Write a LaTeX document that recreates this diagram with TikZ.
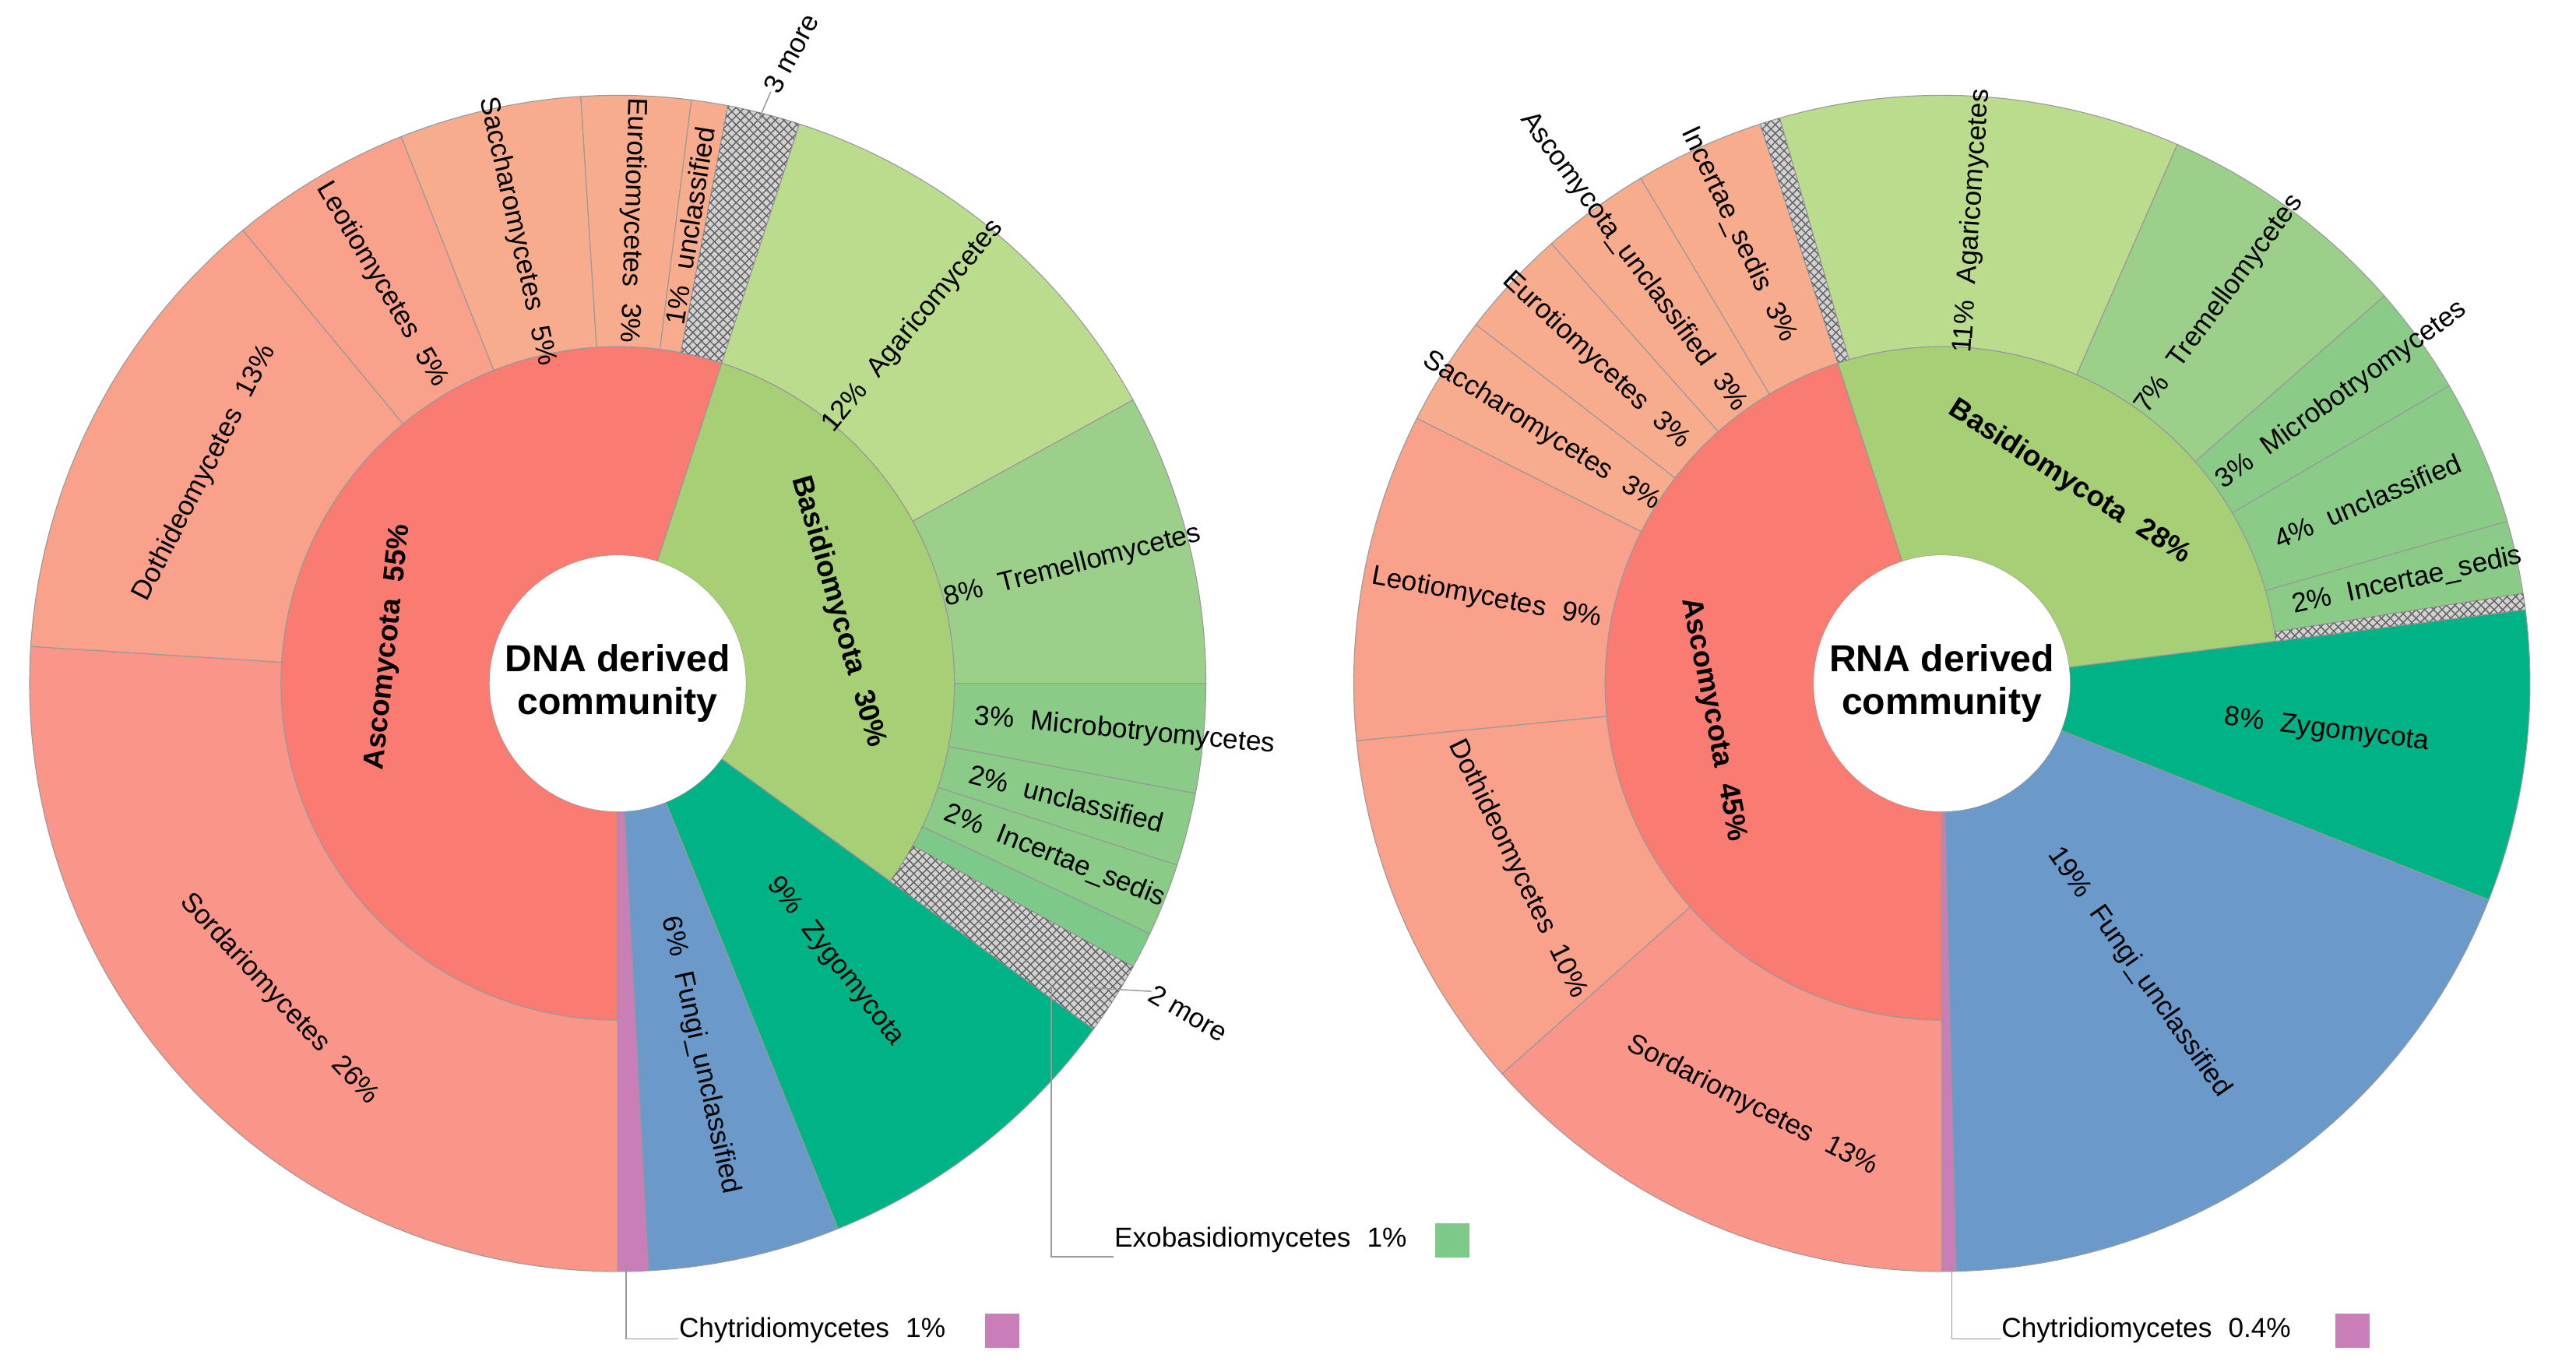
\documentclass[tikz,border=0pt]{standalone}
\usepackage{fontspec}
\setmainfont{Liberation Sans}
\usetikzlibrary{patterns}
\definecolor{asco}{HTML}{F97B72}
\definecolor{sord}{HTML}{FA958A}
\definecolor{doth}{HTML}{F9A18B}
\definecolor{sacc}{HTML}{F8AC8E}
\definecolor{basid}{HTML}{A6CF76}
\definecolor{agar}{HTML}{BBDC8D}
\definecolor{trem}{HTML}{9CD08A}
\definecolor{gsmall}{HTML}{8ACB88}
\definecolor{zygo}{HTML}{00B386}
\definecolor{fungi}{HTML}{6A99CA}
\definecolor{chyt}{HTML}{C97EB8}
\definecolor{exo}{HTML}{7DC98A}
\newcommand\annsec[5]{\path[sec,#5] (#1:#3) arc[start angle=#1,end angle=#2,radius=#3] -- (#2:#4) arc[start angle=#2,end angle=#1,radius=#4] -- cycle;}
\tikzset{
 sec/.style={draw=black!40,line width=0.3pt},
 hatch/.style={fill=gray!35,postaction={pattern=crosshatch,pattern color=gray!80!black}},
 lab/.style={font=\fontsize{9.5}{11}\selectfont,inner sep=0pt},
 blab/.style={font=\fontsize{10}{12}\selectfont\bfseries,inner sep=0pt},
 ctr/.style={circle,fill=white,minimum size=3.12cm,inner sep=0pt,align=center,font=\fontsize{13}{15}\selectfont\bfseries},
 lead/.style={draw=black!40,line width=0.4pt},
 sq/.style={minimum size=0.42cm,inner sep=0pt}
}
\newcommand\gap{\hspace{0.6em}}
\begin{document}
\begin{tikzpicture}[x=0.02cm,y=0.02cm]
\useasboundingbox (0,0) rectangle (1568,835);
% ---------------- LEFT ----------------
\begin{scope}[shift={(376,419)}]
\annsec{72}{270}{78}{205}{fill=asco}
\annsec{-36}{72}{78}{205}{fill=basid}
\annsec{-68}{-36}{78}{358}{fill=zygo}
\annsec{-87}{-68}{78}{358}{fill=fungi}
\annsec{-90}{-87}{78}{358}{fill=chyt}
\annsec{176.4}{270}{205}{358}{fill=sord}
\annsec{129.6}{176.4}{205}{358}{fill=doth}
\annsec{111.6}{129.6}{205}{358}{fill=doth}
\annsec{93.6}{111.6}{205}{358}{fill=sacc}
\annsec{82.8}{93.6}{205}{358}{fill=sacc}
\annsec{79.2}{82.8}{205}{358}{fill=sacc}
\annsec{72}{79.2}{205}{358}{hatch}
\annsec{28.8}{72}{205}{358}{fill=agar}
\annsec{0}{28.8}{205}{358}{fill=trem}
\annsec{-10.8}{0}{205}{358}{fill=gsmall}
\annsec{-18}{-10.8}{205}{358}{fill=gsmall}
\annsec{-25.2}{-18}{205}{358}{fill=gsmall}
\annsec{-28.8}{-25.2}{205}{358}{fill=exo}
\annsec{-36}{-28.8}{205}{358}{hatch}
\node[ctr] (c1) at (0,0) {DNA derived\\community};
\node[blab,rotate=84] (l1) at (171:141) {Ascomycota\gap55\%};
\node[blab,rotate=-74] (l2) at (18:141) {Basidiomycota\gap30\%};
\node[lab,rotate=-47] (l3) at (223:282) {Sordariomycetes\gap26\%};
\node[lab,rotate=63] (l4) at (153:282) {Dothideomycetes\gap13\%};
\node[lab,rotate=-59.4] (l5) at (120.6:282) {Leotiomycetes\gap5\%};
\node[lab,rotate=-77.4] (l6) at (102.6:282) {Saccharomycetes\gap5\%};
\node[lab,rotate=-91.8] (l7) at (88.2:282) {Eurotiomycetes\gap3\%};
\node[lab,rotate=81] (l8) at (81:282) {1\%\gap unclassified};
\node[lab,rotate=50.4] (l9) at (50.4:282) {12\%\gap Agaricomycetes};
\node[lab,rotate=14.4] (l10) at (14.4:286) {8\%\gap Tremellomycetes};
\node[lab,rotate=-5.4] (l11) at (-5.4:310) {3\%\gap Microbotryomycetes};
\node[lab,rotate=-14.4] (l12) at (-14.4:282) {2\%\gap unclassified};
\node[lab,rotate=-21.6] (l13) at (-21.6:286) {2\%\gap Incertae\_sedis};
\node[lab,rotate=-52] (l14) at (-52:215) {9\%\gap Zygomycota};
\node[lab,rotate=-77.5] (l15) at (-77.5:232) {6\%\gap Fungi\_unclassified};
\coordinate (h1) at (76:352);
\node[lab,rotate=62,anchor=west] (l16) at (75.5:372) {3 more};
\draw[lead] (h1) -- (l16.west);
\coordinate (h2) at (-33:340);
\node[lab,rotate=-30,anchor=west] (l17) at (-30:375) {2 more};
\draw[lead] (h2) -- (l17.west);
\coordinate (e1) at (264,-183);
\coordinate (e2) at (264,-349);
\coordinate (k1) at (5,-353);
\coordinate (k2) at (5,-399);
\end{scope}
\node[lab,anchor=west] (ex) at (678,80) {Exobasidiomycetes\gap 1\%};
\node[sq,fill=exo] (exs) at (884,80) {};
\draw[lead] (e1) -- (e2) -- (ex.west |- e2);
\node[lab,anchor=west] (ch1) at (413,25) {Chytridiomycetes\gap 1\%};
\node[sq,fill=chyt] (chs1) at (610,25) {};
\draw[lead] (k1) -- (k2) -- (ch1.west |- k2);
% ---------------- RIGHT ----------------
\begin{scope}[shift={(1182,419)}]
\annsec{108}{270}{78}{205}{fill=asco}
\annsec{7.2}{108}{78}{205}{fill=basid}
\annsec{-21.6}{7.2}{78}{358}{fill=zygo}
\annsec{-88.6}{-21.6}{78}{358}{fill=fungi}
\annsec{-90}{-88.6}{78}{358}{fill=chyt}
\annsec{221.6}{270}{205}{358}{fill=sord}
\annsec{185.6}{221.6}{205}{358}{fill=doth}
\annsec{153.2}{185.6}{205}{358}{fill=doth}
\annsec{142.4}{153.2}{205}{358}{fill=sacc}
\annsec{131.6}{142.4}{205}{358}{fill=sacc}
\annsec{120.8}{131.6}{205}{358}{fill=sacc}
\annsec{108}{120.8}{205}{358}{fill=sacc}
\annsec{106}{108}{205}{358}{hatch}
\annsec{66.4}{106}{205}{358}{fill=agar}
\annsec{41.2}{66.4}{205}{358}{fill=trem}
\annsec{30.4}{41.2}{205}{358}{fill=gsmall}
\annsec{16}{30.4}{205}{358}{fill=gsmall}
\annsec{8.8}{16}{205}{358}{fill=gsmall}
\annsec{7.2}{8.8}{205}{358}{hatch}
\node[ctr] (c2) at (0,0) {RNA derived\\community};
\node[blab,rotate=-79] (r1) at (189:141) {Ascomycota\gap45\%};
\node[blab,rotate=-32.4] (r2) at (57.6:145) {Basidiomycota\gap28\%};
\node[lab,rotate=-27] (r3) at (245.8:282) {Sordariomycetes\gap13\%};
\node[lab,rotate=-64] (r4) at (203.6:282) {Dothideomycetes\gap10\%};
\node[lab,rotate=-10.6] (r5) at (169.4:282) {Leotiomycetes\gap9\%};
\node[lab,rotate=-32.2] (r6) at (147.8:288) {Saccharomycetes\gap3\%};
\node[lab,rotate=-43] (r7) at (137:288) {Eurotiomycetes\gap3\%};
\node[lab,rotate=-53.8] (r8) at (126.2:318) {Ascomycota\_unclassified\gap3\%};
\node[lab,rotate=-64.6] (r9) at (114.4:300) {Incertae\_sedis\gap3\%};
\node[lab,rotate=86.2] (r10) at (86.2:282) {11\%\gap Agaricomycetes};
\node[lab,rotate=53.8] (r11) at (53.8:286) {7\%\gap Tremellomycetes};
\node[lab,rotate=35.8] (r12) at (35.8:300) {3\%\gap Microbotryomycetes};
\node[lab,rotate=23.2] (r13) at (23.2:282) {4\%\gap unclassified};
\node[lab,rotate=12.4] (r14) at (12.4:290) {2\%\gap Incertae\_sedis};
\node[lab,rotate=-7] (r15) at (-7:236) {8\%\gap Zygomycota};
\node[lab,rotate=-55] (r16) at (-55.7:213) {19\%\gap Fungi\_unclassified};
\coordinate (k3) at (6,-353);
\coordinate (k4) at (6,-399);
\end{scope}
\node[lab,anchor=west] (ch2) at (1218,25) {Chytridiomycetes\gap 0.4\%};
\node[sq,fill=chyt] (chs2) at (1432,25) {};
\draw[lead] (k3) -- (k4) -- (ch2.west |- k4);
\end{tikzpicture}
\end{document}
